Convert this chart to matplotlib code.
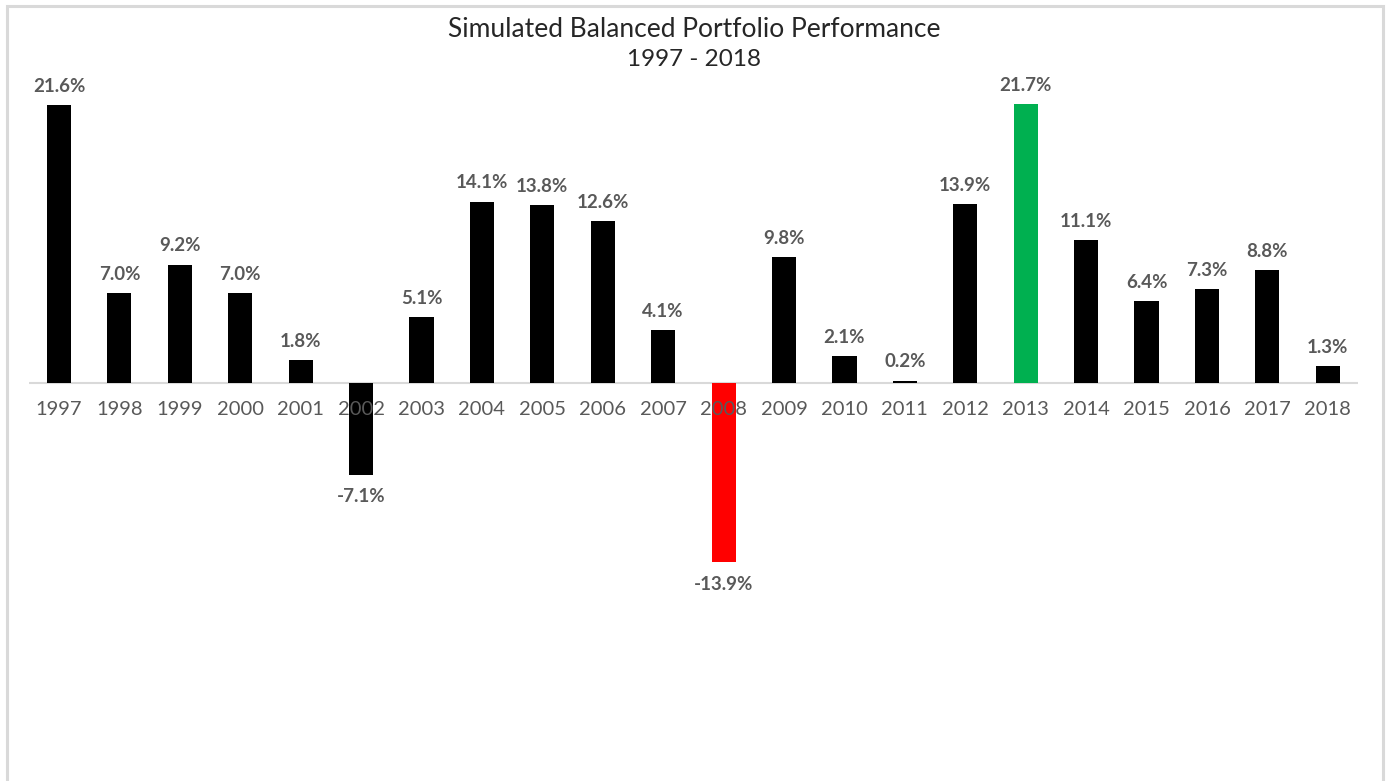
import matplotlib.pyplot as plt
from matplotlib.patches import Rectangle

plt.rcParams['font.family'] = ['Lato', 'DejaVu Sans']

years = [str(y) for y in range(1997, 2019)]
returns = [21.6, 7.0, 9.2, 7.0, 1.8, -7.1, 5.1, 14.1, 13.8, 12.6, 4.1,
           -13.9, 9.8, 2.1, 0.2, 13.9, 21.7, 11.1, 6.4, 7.3, 8.8, 1.3]
worst_year = '2008'
best_year = '2013'

colors = []
for y in years:
    if y == worst_year:
        colors.append('#FF0000')
    elif y == best_year:
        colors.append('#00B050')
    else:
        colors.append('black')

fig = plt.figure(figsize=(13.89, 7.81), dpi=100)
ax = fig.add_axes([0.0207, 0.0, 0.957, 1.0])

x = list(range(len(years)))
ax.bar(x, returns, width=0.4, color=colors, zorder=1)
ax.axhline(0, color='#d9d9d9', lw=1.5, zorder=0.5)

ax.set_xlim(-0.5, len(years) - 0.5)
ax.set_ylim(-30.9, 29.76)

# value labels
for xi, v in zip(x, returns):
    off = 13.5 if v >= 0 else -16
    ax.annotate(f'{v:.1f}%', (xi, v), xytext=(0, off), textcoords='offset points',
                ha='center', va='center', fontsize=13.5, fontweight='bold', color='#595959')

# year labels under the zero line
for xi, y in zip(x, years):
    ax.annotate(y, (xi, 0), xytext=(0, -19), textcoords='offset points',
                ha='center', va='center', fontsize=14.5, color='#595959', zorder=3)

ax.set_xticks([])
ax.set_yticks([])
for s in ax.spines.values():
    s.set_visible(False)

fig.text(0.4995, 0.962, 'Simulated Balanced Portfolio Performance', ha='center', va='center',
         fontsize=19, color='#262626')
fig.text(0.4995, 0.924, '1997 - 2018', ha='center', va='center', fontsize=17.5, color='#262626')

# chart border
fig.patches.append(Rectangle((7 / 1389, -0.05), 1376 / 1389, 1 - 6 / 781 + 0.05,
                             transform=fig.transFigure, fill=False, ec='#d9d9d9', lw=2.2))

fig.savefig('out.png', dpi=100)
